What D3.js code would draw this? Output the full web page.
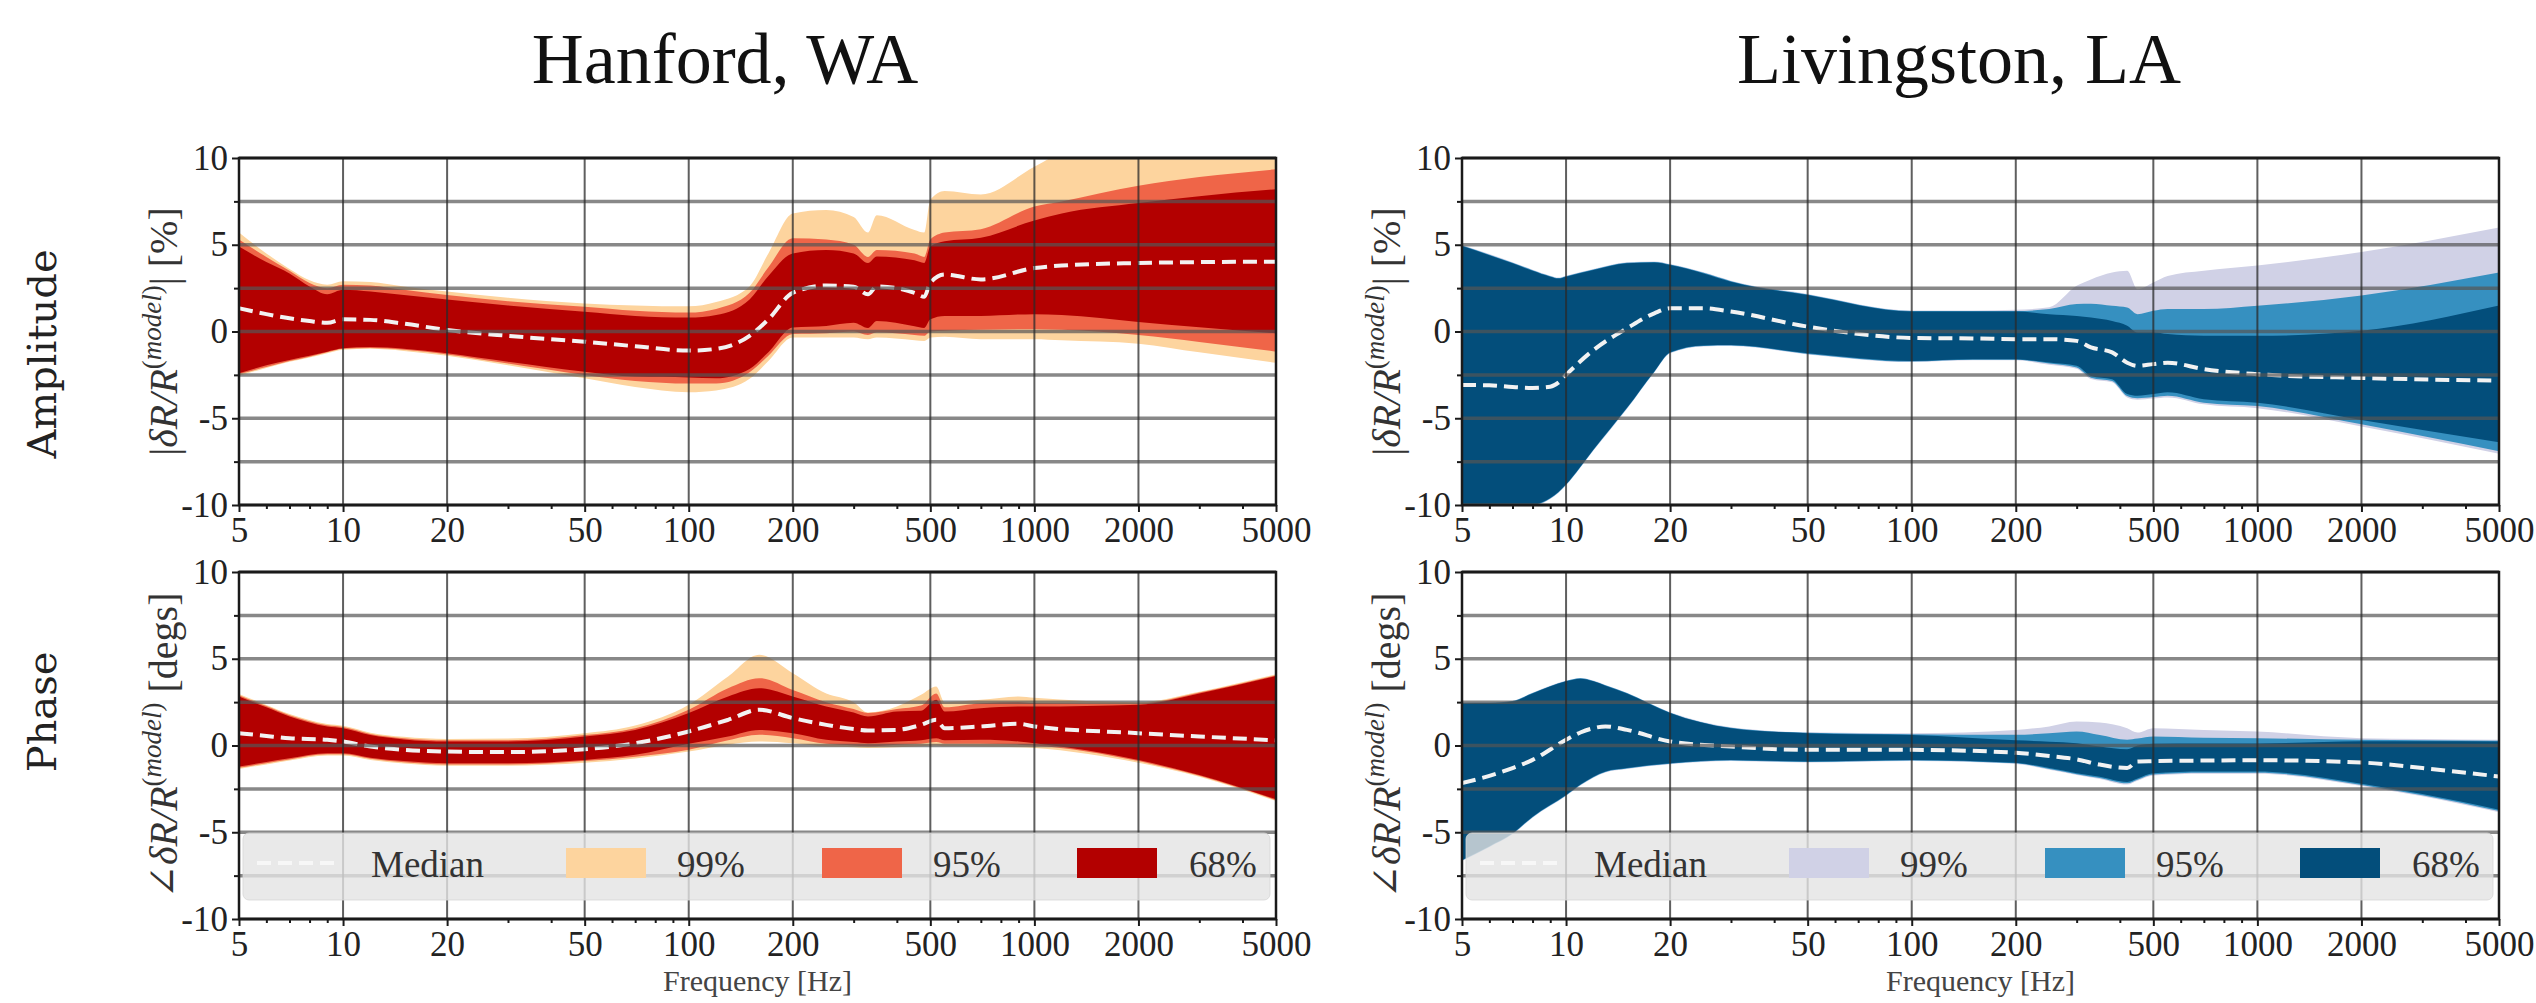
<!DOCTYPE html>
<html>
<head>
<meta charset="utf-8">
<script src="https://cdn.jsdelivr.net/npm/d3@7"></script>
<style>
body { margin: 0; background: #fff; overflow: hidden; }
svg { display: block; font-family: 'Liberation Serif', 'DejaVu Serif', serif; }
</style>
</head>
<body>
<svg id="chart" width="2536" height="1003"></svg>
<script>
// ---- data ----
var freqTicks = [5, 10, 20, 50, 100, 200, 500, 1000, 2000, 5000];
var freqMinor = [6, 7, 8, 9, 30, 40, 60, 70, 80, 90, 300, 400, 600, 700, 800, 900, 3000, 4000];
var yTicks = [-10, -5, 0, 5, 10];
var yMinor = [-7.5, -2.5, 2.5, 7.5];
var yGrid = [-10, -7.5, -5, -2.5, 0, 2.5, 5, 7.5, 10];
var legendLabels = ["Median", "99%", "95%", "68%"];
var titles = ["Hanford, WA", "Livingston, LA"];
var rowLabels = ["Amplitude", "Phase"];

var hanColors = ["#fdd49e", "#ef6548", "#b30000"];
var livColors = ["#d0d1e6", "#3690c0", "#034e7b"];

// Hanford amplitude
var hanAmpFreq = [5, 6, 7, 8, 9, 10, 12, 15, 20, 30, 50, 70, 100, 120, 150, 170, 200, 250, 300, 330, 350, 450, 480, 500, 550, 700, 1000, 1200, 2000, 3000, 5000];
var hanAmpMed  = [1.34, 1.0, 0.76, 0.6, 0.5, 0.7, 0.67, 0.45, 0.09, -0.25, -0.59, -0.85, -1.1, -1.0, -0.25, 0.7, 2.23, 2.65, 2.58, 2.14, 2.6, 2.23, 2.0, 2.8, 3.28, 3.0, 3.66, 3.8, 3.95, 4.0, 4.02];
var hanAmpLo68 = [-2.4, -1.95, -1.64, -1.4, -1.16, -0.97, -0.9, -1.0, -1.26, -1.75, -2.32, -2.6, -2.65, -2.7, -2.16, -1.2, 0.23, 0.32, 0.5, 0.2, 0.6, 0.3, 0.2, 0.7, 0.9, 0.9, 1.0, 0.95, 0.55, 0.25, -0.1];
var hanAmpHi68 = [4.9, 4.0, 3.35, 2.6, 2.15, 2.4, 2.3, 2.1, 1.85, 1.5, 1.14, 0.9, 0.8, 0.95, 1.85, 3.2, 4.5, 4.7, 4.5, 3.95, 4.33, 4.1, 3.95, 4.9, 5.2, 5.4, 6.4, 6.8, 7.4, 7.8, 8.2];
var hanAmpLo95 = [-2.45, -2.05, -1.7, -1.45, -1.2, -1.0, -0.95, -1.05, -1.32, -1.85, -2.5, -2.85, -3.0, -3.0, -2.35, -1.4, -0.15, -0.1, 0.0, -0.2, -0.05, -0.2, -0.25, 0.0, 0.05, 0.1, 0.13, 0.1, -0.2, -0.6, -1.16];
var hanAmpHi95 = [5.3, 4.3, 3.5, 2.8, 2.5, 2.7, 2.65, 2.4, 2.1, 1.75, 1.43, 1.2, 1.09, 1.3, 2.23, 3.7, 5.38, 5.3, 5.0, 4.3, 4.7, 4.5, 4.3, 5.3, 5.7, 5.9, 7.2, 7.5, 8.4, 8.9, 9.35];
var hanAmpLo99 = [-2.55, -2.1, -1.75, -1.5, -1.25, -1.05, -1.0, -1.12, -1.4, -1.95, -2.7, -3.2, -3.5, -3.4, -2.73, -1.7, -0.34, -0.35, -0.34, -0.45, -0.35, -0.5, -0.55, -0.34, -0.3, -0.44, -0.44, -0.5, -0.7, -1.2, -1.8];
var hanAmpHi99 = [5.7, 4.5, 3.6, 2.95, 2.7, 2.9, 2.85, 2.6, 2.3, 1.95, 1.62, 1.5, 1.45, 1.7, 2.6, 4.5, 6.8, 7.0, 6.6, 5.7, 6.7, 5.85, 5.7, 7.6, 8.1, 7.9, 9.5, 10.3, 11, 11.5, 12];

// Livingston amplitude
var livAmpFreq = [5, 6, 7, 8, 9, 9.5, 10, 12, 15, 18, 20, 25, 30, 50, 100, 150, 200, 250, 300, 330, 380, 420, 450, 500, 550, 700, 1000, 2000, 5000];
var livAmpMed  = [-3.08, -3.1, -3.2, -3.25, -3.18, -2.95, -2.5, -1.07, 0.18, 1.05, 1.34, 1.34, 1.15, 0.28, -0.37, -0.4, -0.44, -0.44, -0.54, -0.92, -1.2, -1.8, -1.98, -1.88, -1.8, -2.17, -2.46, -2.68, -2.83];
var livAmpLo68 = [-10.4, -10.35, -10.25, -10.05, -9.6, -9.25, -8.8, -6.8, -4.4, -2.3, -1.2, -0.8, -0.78, -1.26, -1.7, -1.6, -1.6, -1.79, -1.98, -2.56, -2.75, -3.6, -3.7, -3.6, -3.5, -3.9, -4.1, -5.1, -6.38];
var livAmpHi68 = [4.93, 4.4, 3.93, 3.5, 3.16, 3.05, 3.16, 3.54, 3.93, 3.97, 3.83, 3.35, 2.87, 2.1, 1.15, 1.15, 1.15, 1.0, 0.9, 0.8, 0.6, 0.33, -0.06, -0.06, -0.15, -0.25, -0.25, 0.05, 1.5];
var livAmpLo95 = [-10.43, -10.38, -10.28, -10.08, -9.63, -9.28, -8.83, -6.83, -4.43, -2.33, -1.23, -0.83, -0.81, -1.29, -1.73, -1.63, -1.63, -1.85, -2.08, -2.66, -2.85, -3.72, -3.85, -3.78, -3.7, -4.1, -4.3, -5.35, -6.9];
var livAmpHi95 = [4.96, 4.43, 3.96, 3.53, 3.19, 3.08, 3.19, 3.57, 3.96, 4.0, 3.86, 3.38, 2.9, 2.13, 1.18, 1.18, 1.18, 1.29, 1.58, 1.6, 1.48, 1.38, 1.0, 1.19, 1.29, 1.29, 1.48, 2.08, 3.4];
var livAmpLo99 = [-10.46, -10.41, -10.31, -10.11, -9.66, -9.31, -8.86, -6.86, -4.46, -2.36, -1.26, -0.86, -0.84, -1.32, -1.76, -1.66, -1.66, -1.92, -2.15, -2.74, -2.93, -3.8, -3.93, -3.86, -3.8, -4.2, -4.42, -5.47, -7.05];
var livAmpHi99 = [4.99, 4.46, 3.99, 3.56, 3.22, 3.11, 3.22, 3.6, 3.99, 4.03, 3.89, 3.41, 2.93, 2.16, 1.21, 1.21, 1.25, 1.4, 2.63, 3.0, 3.4, 3.5, 2.44, 2.83, 3.2, 3.5, 3.8, 4.58, 6.0];

// Hanford phase
var hanPhFreq = [5, 6, 7, 9, 10, 12, 15, 20, 30, 50, 70, 100, 130, 160, 200, 250, 300, 330, 400, 470, 520, 550, 700, 900, 1000, 2000, 3000, 5000];
var hanPhMed  = [0.71, 0.55, 0.42, 0.33, 0.23, -0.06, -0.25, -0.35, -0.38, -0.21, 0.13, 0.81, 1.48, 2.06, 1.58, 1.19, 0.95, 0.87, 0.9, 1.19, 1.48, 1.0, 1.1, 1.25, 1.1, 0.71, 0.52, 0.3];
var hanPhLo68 = [-1.21, -0.95, -0.73, -0.44, -0.44, -0.7, -0.9, -1.02, -1.02, -0.83, -0.54, 0.1, 0.52, 0.9, 0.71, 0.33, 0.2, 0.13, 0.23, 0.3, 0.42, 0.3, 0.33, 0.23, 0.13, -0.83, -1.7, -3.1];
var hanPhHi68 = [2.83, 2.2, 1.67, 1.1, 1.0, 0.6, 0.35, 0.23, 0.23, 0.52, 0.9, 1.87, 2.83, 3.3, 2.83, 2.25, 1.9, 1.67, 1.96, 2.0, 2.63, 1.96, 2.15, 2.25, 2.25, 2.35, 3.0, 4.0];
var hanPhLo95 = [-1.28, -1.02, -0.8, -0.51, -0.51, -0.77, -0.97, -1.09, -1.09, -0.9, -0.65, -0.25, 0.3, 0.62, 0.42, 0.1, 0.0, -0.05, 0.05, 0.1, 0.2, 0.1, 0.1, 0.05, 0.0, -0.9, -1.75, -3.15];
var hanPhHi95 = [2.9, 2.27, 1.74, 1.17, 1.07, 0.67, 0.42, 0.3, 0.3, 0.6, 1.0, 2.06, 3.3, 3.88, 3.2, 2.5, 2.1, 1.87, 2.1, 2.3, 3.0, 2.2, 2.44, 2.5, 2.45, 2.42, 3.05, 4.05];
var hanPhLo99 = [-1.35, -1.09, -0.87, -0.58, -0.58, -0.84, -1.04, -1.16, -1.17, -1.0, -0.75, -0.35, 0.05, 0.23, 0.13, -0.06, -0.1, -0.15, -0.1, -0.05, 0.0, -0.05, -0.06, -0.1, -0.15, -1.0, -1.8, -3.2];
var hanPhHi99 = [2.97, 2.34, 1.81, 1.24, 1.14, 0.74, 0.5, 0.38, 0.4, 0.7, 1.15, 2.35, 3.98, 5.23, 4.17, 3.0, 2.5, 1.9, 2.25, 2.92, 3.4, 2.5, 2.63, 2.83, 2.75, 2.5, 3.1, 4.1];

// Livingston phase
var livPhFreq = [5, 6, 7, 8, 10, 11, 12, 13, 15, 20, 30, 50, 100, 200, 250, 300, 350, 420, 450, 500, 700, 1000, 2000, 3000, 5000];
var livPhMed  = [-2.17, -1.75, -1.3, -0.83, 0.33, 0.75, 1.0, 1.1, 0.9, 0.23, -0.06, -0.25, -0.25, -0.42, -0.6, -0.8, -1.1, -1.3, -0.92, -0.9, -0.87, -0.85, -0.98, -1.3, -1.79];
var livPhLo68 = [-6.6, -5.8, -5.06, -4.1, -2.85, -2.25, -1.8, -1.5, -1.3, -1.02, -0.83, -0.92, -0.83, -1.0, -1.3, -1.6, -1.8, -2.1, -1.9, -1.6, -1.5, -1.5, -2.2, -2.8, -3.7];
var livPhHi68 = [2.44, 2.45, 2.54, 3.0, 3.7, 3.85, 3.7, 3.45, 3.0, 1.87, 1.0, 0.71, 0.6, 0.3, 0.22, 0.13, -0.06, -0.22, 0.0, 0.1, 0.12, 0.12, 0.25, 0.25, 0.23];
var livPhLo95 = [-6.63, -5.83, -5.09, -4.13, -2.88, -2.28, -1.83, -1.53, -1.33, -1.05, -0.86, -0.95, -0.86, -1.03, -1.35, -1.65, -1.87, -2.18, -1.97, -1.67, -1.57, -1.57, -2.27, -2.87, -3.78];
var livPhHi95 = [2.46, 2.47, 2.56, 3.02, 3.72, 3.87, 3.72, 3.47, 3.02, 1.89, 1.02, 0.73, 0.65, 0.62, 0.7, 0.8, 0.6, 0.33, 0.4, 0.52, 0.45, 0.42, 0.33, 0.3, 0.28];
var livPhLo99 = [-6.66, -5.86, -5.12, -4.16, -2.91, -2.31, -1.86, -1.56, -1.36, -1.08, -0.89, -0.98, -0.89, -1.06, -1.4, -1.7, -1.93, -2.25, -2.03, -1.73, -1.63, -1.63, -2.33, -2.93, -3.85];
var livPhHi99 = [2.48, 2.49, 2.58, 3.04, 3.74, 3.89, 3.74, 3.49, 3.04, 1.91, 1.05, 0.76, 0.71, 0.9, 1.1, 1.38, 1.33, 1.0, 0.75, 1.0, 0.9, 0.8, 0.42, 0.38, 0.33];

document.addEventListener('DOMContentLoaded', function (e) {
var svg = d3.select("#chart"),
    serif = "'Liberation Serif', 'DejaVu Serif', serif",
    W = 1037,
    H = 347;

var x = d3.scaleLog().domain([5, 5000]).range([0, W]),
    y = d3.scaleLinear().domain([-10, 10]).range([H, 0]);

var panels = [
  { id: "ha", x0: 239, y0: 158, kind: "amp", colors: hanColors, f: hanAmpFreq, med: hanAmpMed,
    lo: [hanAmpLo99, hanAmpLo95, hanAmpLo68], hi: [hanAmpHi99, hanAmpHi95, hanAmpHi68] },
  { id: "la", x0: 1462, y0: 158, kind: "amp", colors: livColors, f: livAmpFreq, med: livAmpMed,
    lo: [livAmpLo99, livAmpLo95, livAmpLo68], hi: [livAmpHi99, livAmpHi95, livAmpHi68] },
  { id: "hp", x0: 239, y0: 572, kind: "phase", colors: hanColors, f: hanPhFreq, med: hanPhMed,
    lo: [hanPhLo99, hanPhLo95, hanPhLo68], hi: [hanPhHi99, hanPhHi95, hanPhHi68] },
  { id: "lp", x0: 1462, y0: 572, kind: "phase", colors: livColors, f: livPhFreq, med: livPhMed,
    lo: [livPhLo99, livPhLo95, livPhLo68], hi: [livPhHi99, livPhHi95, livPhHi68] }
];

panels.forEach(function (p) {
  var g = svg.append("g").attr("transform", "translate(" + p.x0 + "," + p.y0 + ")");

  g.append("clipPath").attr("id", "clip-" + p.id)
    .append("rect").attr("width", W).attr("height", H);

  var plot = g.append("g").attr("clip-path", "url(#clip-" + p.id + ")");

  // bands: 99 -> 95 -> 68
  [0, 1, 2].forEach(function (k) {
    var area = d3.area()
      .x(function (d, i) { return x(p.f[i]); })
      .y0(function (d, i) { return y(p.lo[k][i]); })
      .y1(function (d, i) { return y(p.hi[k][i]); })
      .curve(d3.curveMonotoneX);
    plot.append("path")
      .attr("d", area(p.f))
      .attr("fill", p.colors[k]);
  });

  var line = d3.line()
    .x(function (d, i) { return x(p.f[i]); })
    .y(function (d, i) { return y(p.med[i]); })
    .curve(d3.curveMonotoneX);
  plot.append("path")
    .attr("d", line(p.f))
    .attr("fill", "none")
    .attr("stroke", "#f2f2f2")
    .attr("stroke-width", 4)
    .attr("stroke-dasharray", "14,7");

  // grid on top of the bands
  g.append("g").selectAll("line")
    .data(yGrid).enter().append("line")
    .attr("x1", 0).attr("x2", W)
    .attr("y1", function (d) { return y(d); })
    .attr("y2", function (d) { return y(d); })
    .attr("stroke", "#555")
    .attr("stroke-opacity", 0.7)
    .attr("stroke-width", 3.5);
  g.append("g").selectAll("line")
    .data(freqTicks).enter().append("line")
    .attr("x1", function (d) { return x(d); })
    .attr("x2", function (d) { return x(d); })
    .attr("y1", 0).attr("y2", H)
    .attr("stroke", "#2a2a2a")
    .attr("stroke-opacity", 0.75)
    .attr("stroke-width", 2);

  // legend in the phase row
  if (p.kind == "phase") {
    var lg = g.append("g");
    lg.append("rect")
      .attr("x", 4).attr("y", 261)
      .attr("width", W - 10).attr("height", 67)
      .attr("rx", 6)
      .attr("fill", "#e4e4e4")
      .attr("fill-opacity", 0.8)
      .attr("stroke", "#d6d6d6")
      .attr("stroke-opacity", 0.8);
    lg.append("line")
      .attr("x1", 18).attr("x2", 98)
      .attr("y1", 291).attr("y2", 291)
      .attr("stroke", "#f7f7f7")
      .attr("stroke-width", 4)
      .attr("stroke-dasharray", "14,7");
    var swatchX = [327, 583, 838],
        textX = [132, 438, 694, 950];
    swatchX.forEach(function (sx, k) {
      lg.append("rect")
        .attr("x", sx).attr("y", 276)
        .attr("width", 80).attr("height", 30)
        .attr("fill", p.colors[k]);
    });
    legendLabels.forEach(function (t, k) {
      lg.append("text")
        .attr("x", textX[k]).attr("y", 305)
        .attr("fill", "#333")
        .style("font-family", serif)
        .style("font-size", "37px")
        .text(t);
    });

    g.append("text")
      .attr("x", W / 2).attr("y", H + 72)
      .attr("text-anchor", "middle")
      .attr("fill", "#444")
      .style("font-family", serif)
      .style("font-size", "30px")
      .text("Frequency [Hz]");
  }

  // frame
  g.append("rect")
    .attr("width", W).attr("height", H)
    .attr("fill", "none")
    .attr("stroke", "#1a1a1a")
    .attr("stroke-width", 2.5);

  // axes
  var xa = g.append("g")
    .attr("transform", "translate(0," + H + ")")
    .call(d3.axisBottom(x).tickValues(freqTicks).tickSize(7).tickPadding(5)
      .tickFormat(function (d) { return String(d); }));
  var xm = g.append("g")
    .attr("transform", "translate(0," + H + ")")
    .call(d3.axisBottom(x).tickValues(freqMinor).tickSize(4).tickFormat(""));
  var ya = g.append("g")
    .call(d3.axisLeft(y).tickValues(yTicks).tickSize(7).tickPadding(4)
      .tickFormat(function (d) { return String(d); }));
  var ym = g.append("g")
    .call(d3.axisLeft(y).tickValues(yMinor).tickSize(5).tickFormat(""));

  [xa, xm, ya, ym].forEach(function (a) {
    a.attr("font-family", serif);
    a.select(".domain").remove();
    a.selectAll("line").attr("stroke", "#1a1a1a").attr("stroke-width", 2);
    a.selectAll("text")
      .attr("fill", "#222")
      .style("font-family", serif)
      .style("font-size", "35px");
  });

  // y-axis label
  var yl = g.append("text")
    .attr("transform", "translate(-62," + (H / 2) + ") rotate(-90)")
    .attr("text-anchor", "middle")
    .attr("fill", "#333")
    .style("font-family", serif)
    .style("font-size", "40px");
  yl.append("tspan").text(p.kind == "amp" ? "|" : "\u2220");
  yl.append("tspan").style("font-style", "italic").text("\u03b4R/R");
  yl.append("tspan").attr("dy", -16).style("font-size", "27px").text("(");
  yl.append("tspan").style("font-size", "27px").style("font-style", "italic").text("model");
  yl.append("tspan").style("font-size", "27px").text(")");
  yl.append("tspan").attr("dy", 16).text(p.kind == "amp" ? "| [%]" : " [degs]");
});

// column titles
svg.selectAll(".title")
  .data(titles).enter().append("text")
  .attr("class", "title")
  .attr("x", function (d, i) { return i == 0 ? 725 : 1959; })
  .attr("y", 83)
  .attr("text-anchor", "middle")
  .attr("fill", "#111")
  .style("font-family", serif)
  .style("font-size", "72px")
  .text(function (d) { return d; });

// row labels
svg.selectAll(".row")
  .data(rowLabels).enter().append("text")
  .attr("class", "row")
  .attr("transform", function (d, i) {
    return "translate(56," + (i == 0 ? 354 : 712) + ") rotate(-90)";
  })
  .attr("text-anchor", "middle")
  .attr("fill", "#222")
  .style("font-family", "'DejaVu Serif', serif")
  .style("font-size", "40px")
  .text(function (d) { return d; });
});
</script>
</body>
</html>
